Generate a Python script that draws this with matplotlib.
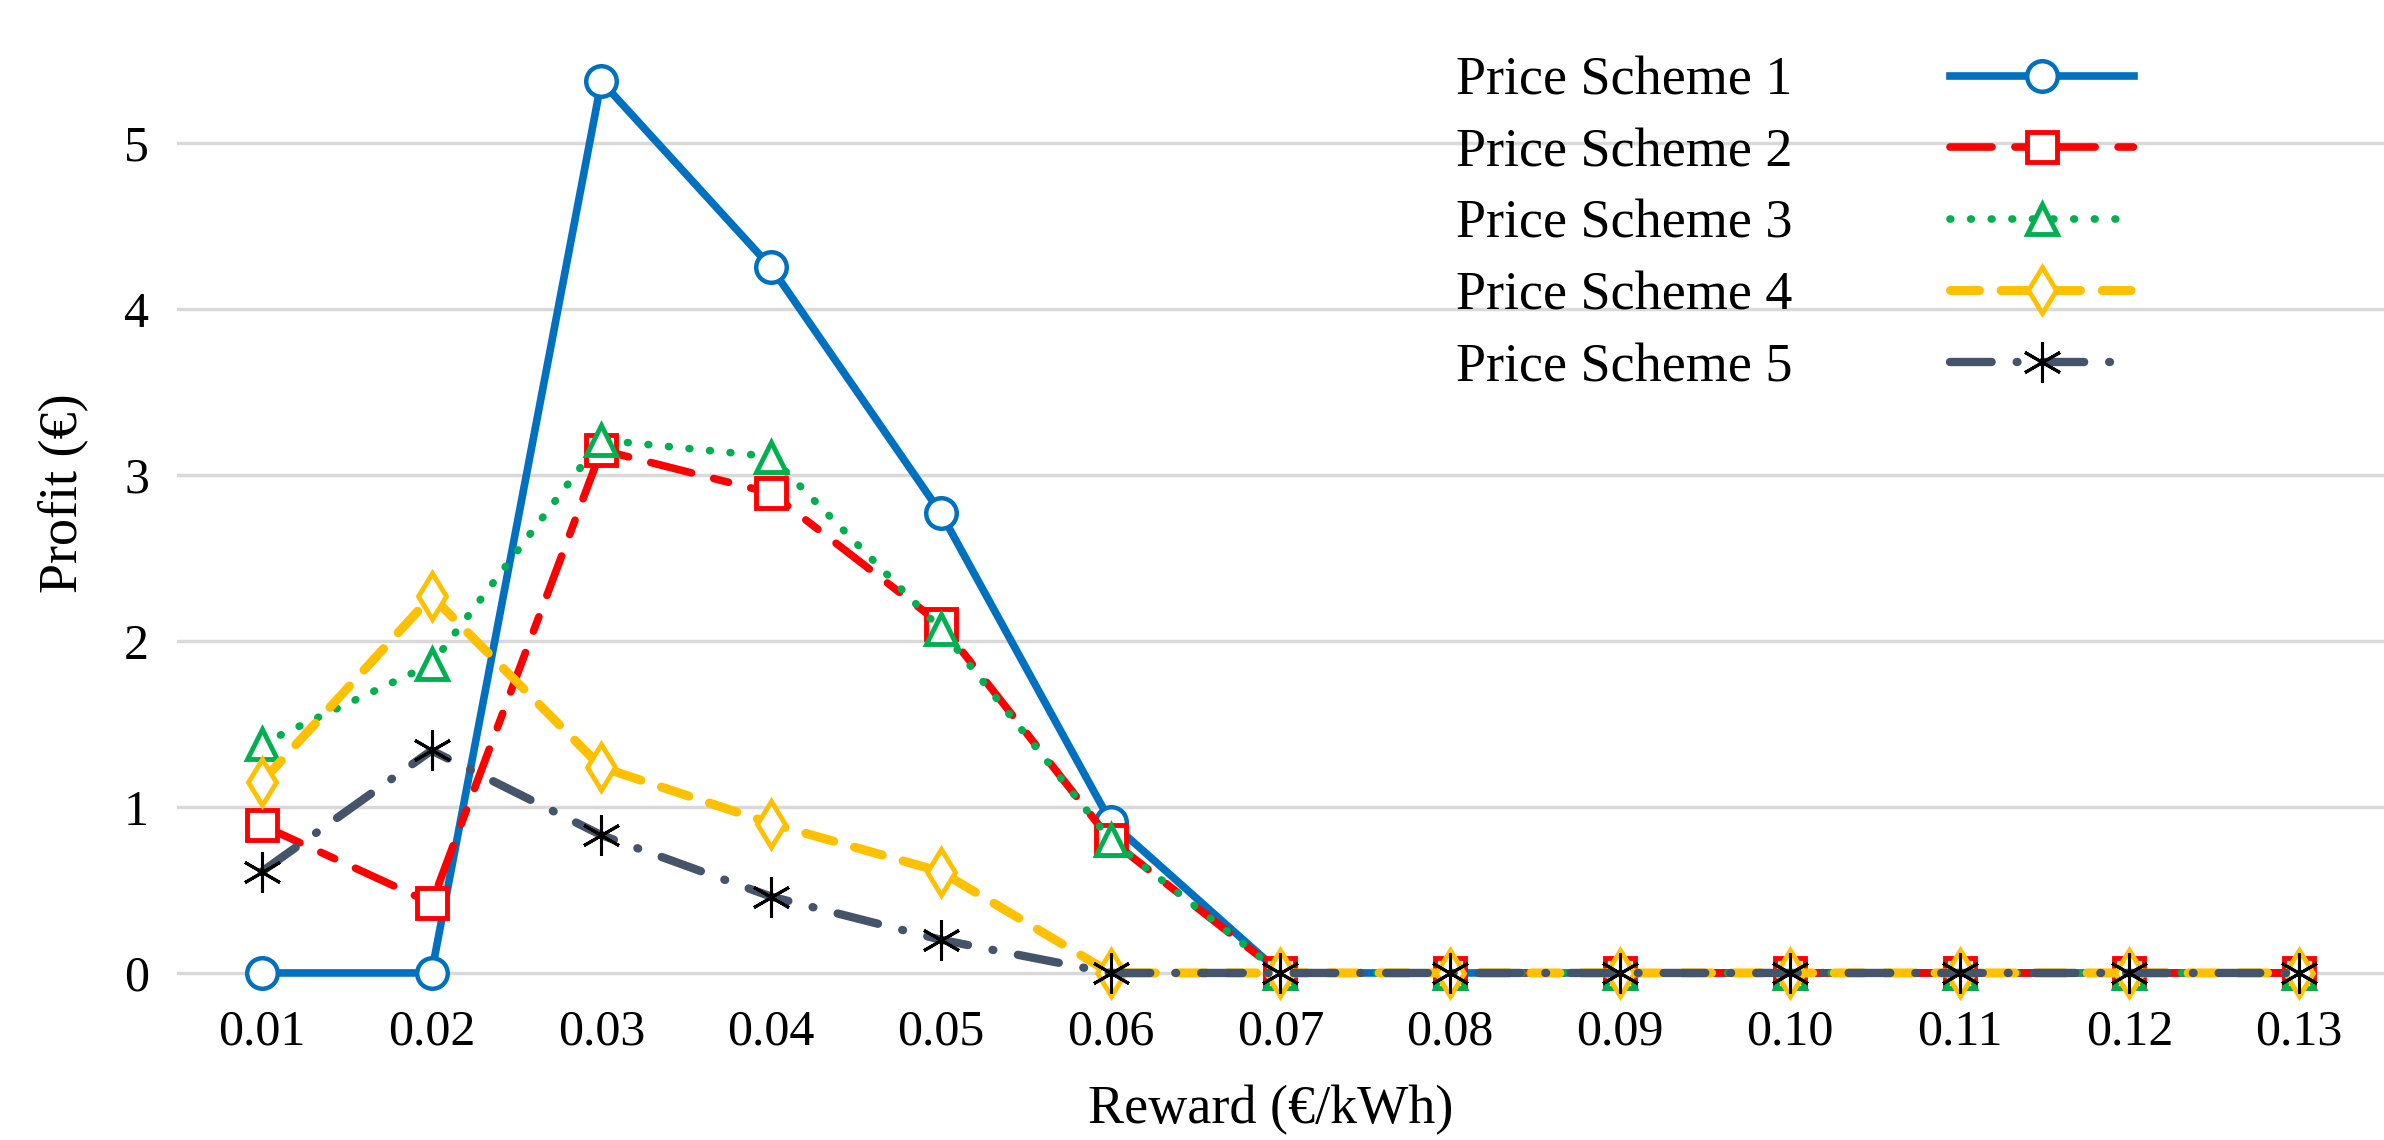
import matplotlib.pyplot as plt

plt.rcParams["font.family"] = ["Liberation Serif", "DejaVu Serif"]

# data ---------------------------------------------------------------------
rewards = ["0.01", "0.02", "0.03", "0.04", "0.05", "0.06", "0.07",
           "0.08", "0.09", "0.10", "0.11", "0.12", "0.13"]
scheme_1 = [0.00, 0.00, 5.37, 4.25, 2.77, 0.91, 0, 0, 0, 0, 0, 0, 0]
scheme_2 = [0.89, 0.42, 3.15, 2.89, 2.10, 0.80, 0, 0, 0, 0, 0, 0, 0]
scheme_3 = [1.38, 1.86, 3.21, 3.11, 2.07, 0.80, 0, 0, 0, 0, 0, 0, 0]
scheme_4 = [1.15, 2.27, 1.24, 0.90, 0.61, 0.00, 0, 0, 0, 0, 0, 0, 0]
scheme_5 = [0.61, 1.34, 0.83, 0.46, 0.20, 0.00, 0, 0, 0, 0, 0, 0, 0]
labels = ["Price Scheme 1", "Price Scheme 2", "Price Scheme 3",
          "Price Scheme 4", "Price Scheme 5"]

x = list(range(1, len(rewards) + 1))

fig = plt.figure(figsize=(23.84, 11.40), dpi=100)
ax = fig.add_axes([0.0742, 0.1174, 0.9258, 0.8826])

ax.plot(x, scheme_1, color="#0070C0", lw=5.5, marker="o", ms=22, mew=3.2,
        mfc="white", mec="#0070C0", label=labels[0], clip_on=False, zorder=3)
ax.plot(x, scheme_2, color="#FF0000", lw=5.5, ls=(0, (5.5, 3, 2, 3)),
        dash_capstyle="round", marker="s", ms=21, mew=3.5, mfc="white",
        mec="#FF0000", label=labels[1], clip_on=False, zorder=4)
ax.plot(x, scheme_3, color="#00B050", lw=5.5, ls=(0, (0.1, 2.6)),
        dash_capstyle="round", marker="^", ms=21, mew=3.5, mfc="white",
        mec="#00B050", label=labels[2], clip_on=False, zorder=5)
ax.plot(x, scheme_4, color="#FFC000", lw=6.5, ls=(0, (3.2, 2.4)),
        dash_capstyle="round", marker="d", ms=23, mew=3.5, mfc="white",
        mec="#FFC000", label=labels[3], clip_on=False, zorder=6)
ax.plot(x, scheme_5, color="#44546A", lw=6, ls=(0, (5, 3, 0.1, 3)),
        dash_capstyle="round", marker=(6, 2, 0), ms=29, mew=2.2,
        mec="black", label=labels[4], clip_on=False, zorder=7)

ax.set_xlim(0.5, 13.5)
ax.set_ylim(-0.2, 5.86)
ax.set_xticks(x)
ax.set_xticklabels(rewards)
ax.set_yticks(range(0, 6))
ax.tick_params(axis="both", length=0, labelsize=36)
ax.tick_params(axis="x", pad=2)
ax.tick_params(axis="y", pad=20)
ax.grid(axis="y", color="#D9D9D9", lw=2.5, zorder=0)
ax.set_axisbelow(True)
for s in ax.spines.values():
    s.set_visible(False)

ax.set_xlabel("Reward (€/kWh)", fontsize=39, va="top")
ax.xaxis.set_label_coords(0.4957, -0.078)
ax.set_ylabel("Profit (€)", fontsize=39, va="bottom")
ax.yaxis.set_label_coords(-0.040, 0.51)

ax.legend(loc="upper left", bbox_to_anchor=(1456 / 2384, 1 - 56 / 1140),
          bbox_transform=fig.transFigure, frameon=False, markerfirst=False,
          fontsize=39, handlelength=3.4, handletextpad=2.9, labelspacing=0.39,
          borderpad=0, borderaxespad=0, numpoints=1)

fig.savefig("out.png", dpi=100)
